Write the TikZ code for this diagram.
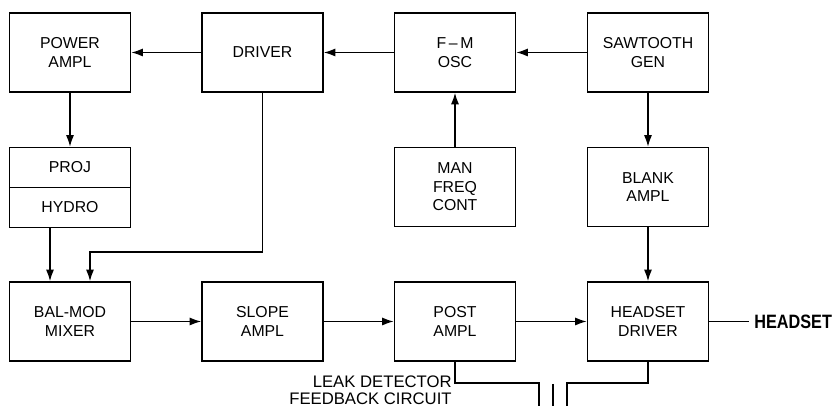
\documentclass[tikz,border=0pt]{standalone}
\usepackage{fontspec}
\setmainfont{Liberation Sans}
\usepackage{tikz}
\usetikzlibrary{positioning,arrows.meta,calc}

\begin{document}
\begin{tikzpicture}[
  >={Latex[length=2.3mm,width=1.6mm]},
  blk/.style={draw,line width=0.9pt,minimum width=2.42cm,minimum height=1.58cm,
    align=center,font=\fontsize{9}{10.5}\selectfont,inner sep=1pt},
  half/.style={blk,minimum height=0.8cm},
  wire/.style={line width=0.8pt},
  lbl/.style={font=\fontsize{9.5}{9.5}\selectfont,align=right,inner sep=0pt}
]
\useasboundingbox (0,0) rectangle (16.7,8.18);

% --- top row ---
\node[blk] (pwr)  at (1.40,7.13)  {POWER\\AMPL};
\node[blk] (drv)  at (5.25,7.13)  {DRIVER};
\node[blk] (fm)   at (9.10,7.13)  {F\,--\,M\\OSC};
\node[blk] (saw)  at (12.96,7.13) {SAWTOOTH\\GEN};

% --- middle row ---
\node[half] (proj)  at (1.40,4.83) {PROJ};
\node[half] (hydro) at (1.40,4.03) {HYDRO};
\node[blk] (man)   at (9.10,4.44)  {MAN\\FREQ\\CONT};
\node[blk] (blank) at (12.96,4.44) {BLANK\\AMPL};

% --- bottom row ---
\node[blk] (bal)   at (1.40,1.75)  {BAL-MOD\\MIXER};
\node[blk] (slope) at (5.25,1.75)  {SLOPE\\AMPL};
\node[blk] (post)  at (9.10,1.75)  {POST\\AMPL};
\node[blk] (hsd)   at (12.96,1.75) {HEADSET\\DRIVER};

% --- signal flow ---
\draw[wire,->] (drv.west) -- (pwr.east);
\draw[wire,->] (fm.west) -- (drv.east);
\draw[wire,->] (saw.west) -- (fm.east);
\draw[wire,->] (man.north) -- (fm.south);
\draw[wire,->] (saw.south) -- (blank.north);
\draw[wire,->] (pwr.south) -- (proj.north);
\draw[wire,->] (blank.south) -- (hsd.north);
\draw[wire,->] ([xshift=-0.4cm]hydro.south) -- ([xshift=-0.4cm]bal.north);
\coordinate (jn) at (5.25,3.14);
\draw[wire,->] (drv.south) -- (jn) -| ([xshift=0.4cm]bal.north);
\draw[wire,->] (bal.east) -- (slope.west);
\draw[wire,->] (slope.east) -- (post.west);
\draw[wire,->] (post.east) -- (hsd.west);

% --- headset output ---
\coordinate (hs) at (14.98,1.75);
\draw[wire] (hsd.east) -- (hs);
\node[anchor=west,inner sep=0pt,font=\fontsize{11}{11}\selectfont\bfseries] (hslbl) at (15.08,1.75) {\scalebox{0.84}[1]{HEADSET}};

% --- leak detector feedback ---
\coordinate (lk1) at (10.78,0.52);
\coordinate (lk2) at (11.34,0.52);
\coordinate (lk1b) at (10.78,0.06);
\coordinate (lk2b) at (11.34,0.06);
\draw[wire] (post.south) |- (lk1) -- (lk1b);
\draw[wire] (hsd.south) |- (lk2) -- (lk2b);
\draw[line width=1.1pt] (11.06,0.5) -- (11.06,0.06);
\node[lbl,anchor=east] (leak) at (9.04,0.37) {LEAK DETECTOR\\FEEDBACK CIRCUIT};
\end{tikzpicture}
\end{document}
